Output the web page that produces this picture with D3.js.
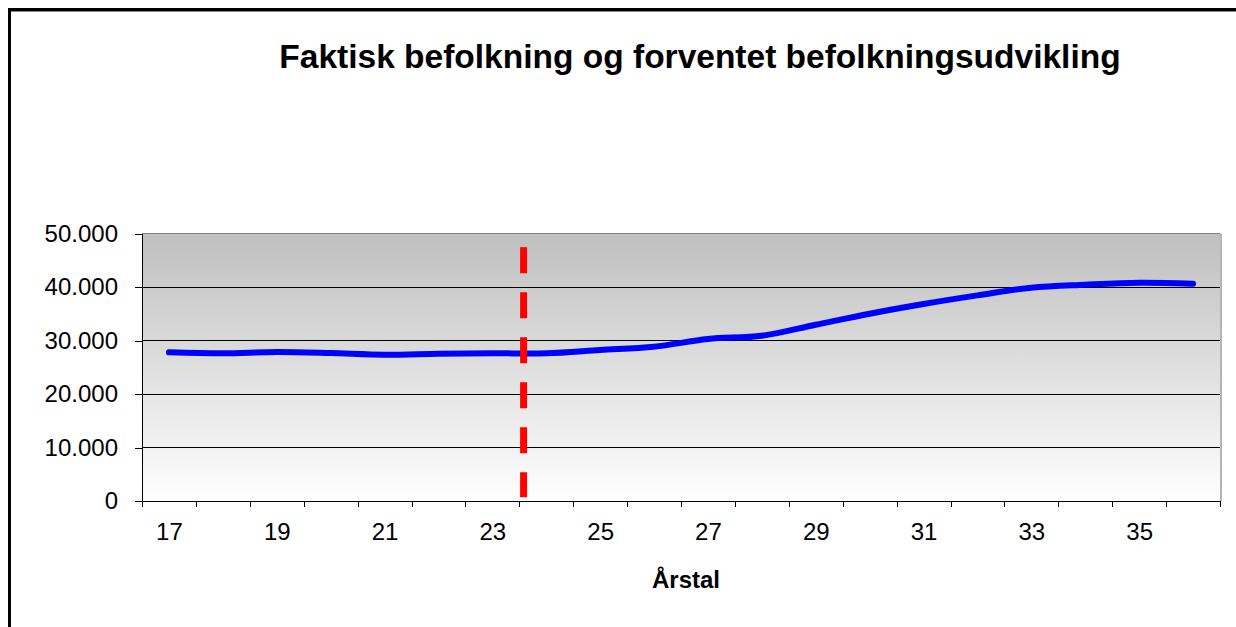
<!DOCTYPE html>
<html>
<head>
<meta charset="utf-8">
<script src="https://cdn.jsdelivr.net/npm/d3@7"></script>
<style>
  body { margin: 0; background: #fff; }
  svg { display: block; font-family: "Liberation Sans", Arial, sans-serif; }
</style>
</head>
<body>
<svg class="chart" width="1236" height="627"></svg>
<script>
// data
const years = [17, 18, 19, 20, 21, 22, 23, 24, 25, 26, 27, 28, 29, 30, 31, 32, 33, 34, 35, 36];
const population = [27790, 27610, 27850, 27660, 27350, 27530, 27610, 27610, 28220, 28840,
                    30280, 30900, 32950, 35010, 36820, 38430, 39870, 40430, 40800, 40620];
const yTicks = [0, 10000, 20000, 30000, 40000, 50000];
const labelYears = [17, 19, 21, 23, 25, 27, 29, 31, 33, 35];
const splitYear = 23.58; // actual vs forecast divider
const splitRange = [700, 47450];

const titleText = "Faktisk befolkning og forventet befolkningsudvikling";
const xTitle = "Årstal";

// config
const plot = { left: 142, right: 1220, top: 233.5, bottom: 501 };

const svg = d3.select("svg.chart");

const daLocale = d3.formatLocale({ decimal: ",", thousands: ".", grouping: [3], currency: ["", ""] });
const fmt = daLocale.format(",");

// year value -> category centre (band edges at half years)
const x = d3.scaleLinear()
  .domain([years[0] - 0.5, years[years.length - 1] + 0.5])
  .range([plot.left, plot.right]);

const y = d3.scaleLinear()
  .domain([0, 50000])
  .range([plot.bottom, plot.top]);

function translate(x, y) {
  return `translate(${x}, ${y})`;
}

// outer frame (runs off the right/bottom edge)
svg.append("rect")
  .attr("x", 9.5).attr("y", 9.5)
  .attr("width", 1400).attr("height", 800)
  .attr("fill", "none")
  .attr("stroke", "#000")
  .attr("stroke-width", 3);
svg.append("line")
  .attr("x1", 11).attr("x2", 1236)
  .attr("y1", 11.5).attr("y2", 11.5)
  .attr("stroke", "#8a8a8a");

// plot background gradient
const grad = svg.append("defs").append("linearGradient")
  .attr("id", "bg").attr("x1", 0).attr("y1", 0).attr("x2", 0).attr("y2", 1);
grad.append("stop").attr("offset", "0%").attr("stop-color", "#bfbfbf");
grad.append("stop").attr("offset", "100%").attr("stop-color", "#ffffff");

svg.append("rect")
  .attr("x", plot.left).attr("y", plot.top)
  .attr("width", plot.right - plot.left)
  .attr("height", plot.bottom - plot.top)
  .attr("fill", "url(#bg)");

// gridlines
svg.append("g")
  .attr("class", "grid")
  .selectAll("line")
  .data(yTicks.filter(v => v > 0))
  .join("line")
  .attr("x1", plot.left).attr("x2", plot.right)
  .attr("y1", d => y(d)).attr("y2", d => y(d))
  .attr("stroke", d => d === 50000 ? "#808080" : "#000")
  .attr("stroke-width", 1)
  .attr("shape-rendering", "crispEdges");

// right border of plot area
svg.append("line")
  .attr("x1", plot.right + 1).attr("x2", plot.right + 1)
  .attr("y1", plot.top).attr("y2", plot.bottom)
  .attr("stroke", "#b4b4b4")
  .attr("stroke-width", 2);

// y axis
const yAxis = d3.axisLeft(y)
  .tickValues(yTicks)
  .tickSize(7)
  .tickPadding(17)
  .tickFormat(fmt);

svg.append("g")
  .attr("class", "y-axis")
  .attr("transform", translate(plot.left, 0))
  .call(yAxis)
  .call(g => g.select(".domain").attr("stroke", "#000").attr("shape-rendering", "crispEdges"))
  .call(g => g.selectAll(".tick line").attr("stroke", "#000").attr("shape-rendering", "crispEdges"))
  .call(g => g.selectAll("text")
    .attr("font-size", 24)
    .attr("font-family", "Liberation Sans, Arial, sans-serif")
    .attr("fill", "#000"));

// x axis: tick marks on category edges
const edges = years.concat(years[years.length - 1] + 1).map(v => v - 0.5);
const xTicks = d3.axisBottom(x)
  .tickValues(edges)
  .tickSize(6)
  .tickSizeOuter(0)
  .tickFormat("");

svg.append("g")
  .attr("class", "x-axis")
  .attr("transform", translate(0, plot.bottom))
  .call(xTicks)
  .call(g => g.select(".domain").attr("stroke", "#000").attr("shape-rendering", "crispEdges"))
  .call(g => g.selectAll(".tick line").attr("stroke", "#000").attr("shape-rendering", "crispEdges"));

// x axis labels, every other year
const xLabels = d3.axisBottom(x)
  .tickValues(labelYears)
  .tickSize(0)
  .tickPadding(22)
  .tickFormat(d => d);

svg.append("g")
  .attr("class", "x-labels")
  .attr("transform", translate(0, plot.bottom))
  .call(xLabels)
  .call(g => g.select(".domain").remove())
  .call(g => g.selectAll("text")
    .attr("font-size", 24)
    .attr("font-family", "Liberation Sans, Arial, sans-serif")
    .attr("fill", "#000"));

// population line
const line = d3.line()
  .x((d, i) => x(years[i]))
  .y(d => y(d))
  .curve(d3.curveCatmullRom);

svg.append("path")
  .datum(population)
  .attr("d", line)
  .attr("fill", "none")
  .attr("stroke", "#0000ff")
  .attr("stroke-width", 6)
  .attr("stroke-linecap", "round")
  .attr("stroke-linejoin", "round");

// divider between actual and forecast
svg.append("line")
  .attr("x1", x(splitYear)).attr("x2", x(splitYear))
  .attr("y1", y(splitRange[1])).attr("y2", y(splitRange[0]))
  .attr("stroke", "#ff0000")
  .attr("stroke-width", 7)
  .attr("stroke-dasharray", "26,19");

// titles
svg.append("text")
  .attr("x", 700).attr("y", 68)
  .attr("text-anchor", "middle")
  .attr("font-size", 33.5)
  .attr("font-weight", "bold")
  .attr("fill", "#000")
  .text(titleText);

svg.append("text")
  .attr("x", 686).attr("y", 588)
  .attr("text-anchor", "middle")
  .attr("font-size", 24)
  .attr("font-weight", "bold")
  .attr("fill", "#000")
  .text(xTitle);
</script>
</body>
</html>
